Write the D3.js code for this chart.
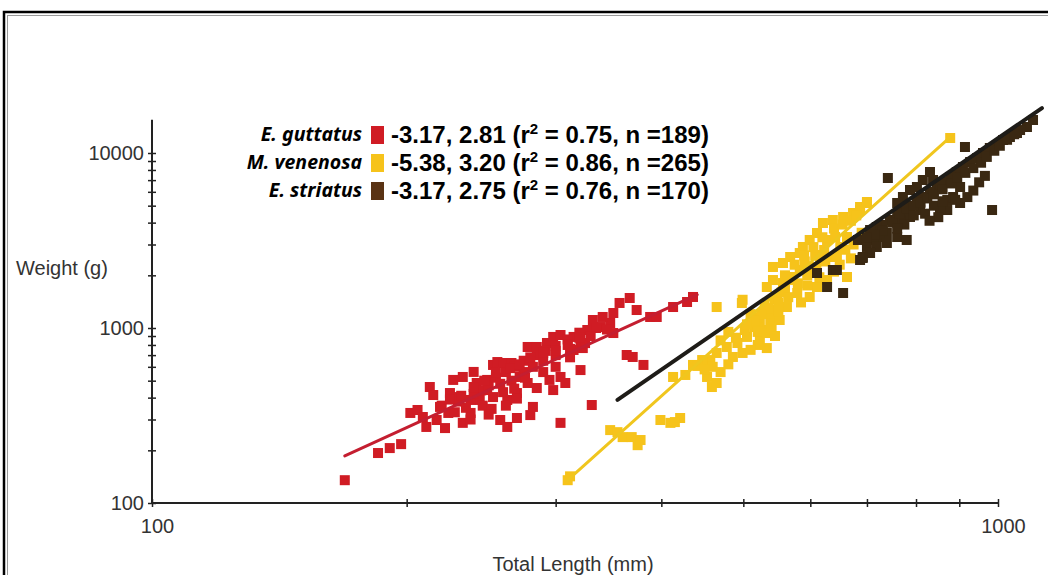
<!DOCTYPE html>
<html>
<head>
<meta charset="utf-8">
<script src="https://cdn.jsdelivr.net/npm/d3@7"></script>
<style>
  body { margin: 0; background: #fff; }
  svg { display: block; }
</style>
</head>
<body>
<div id="chart"></div>
<script>
// Length-weight scatter, log-log axes

// Total length (mm), weight (g)
const guttatus = [
  [169,135],[185,193],[191,206],[197,217],
  [202,327],[206,340],[209,310],[211,272],[213,460],[215,414],[217,298],[219,354],[222,268],[224,327],
  [225,425],[227,505],[229,403],[233,287],[233,525],[238,327],[240,561],[242,485],[249,505],[253,615],
  [256,639],[260,631],[266,631],[258,298],[263,272],[270,306],[280,318],[282,354],[263,388],[270,425],
  [278,485],[285,454],[295,505],[304,525],[308,485],[298,442],[321,575],[304,287],[331,363],[364,701],
  [370,683],[381,615],[351,936],[339,1013],[348,1068],[315,749],[323,768],[272,525],[253,403],[244,388],
  [238,388],[249,442],[278,779],[285,779],[293,821],[298,889],[304,912],[315,889],[321,854],[327,974],
  [332,1111],[341,1156],[351,1218],[357,1390],[367,1484],[374,1267],[388,1156],[395,1156],[413,1318],
  [436,1504],[429,1408],[245,440],[250,470],[255,520],[262,560],[268,600],[275,650],[285,700],[292,740],
  [300,790],[310,860],[320,940],[335,1000],[230,380],[240,420],[258,480],[266,500],[275,560],[282,600],
  [290,650],[300,700],[312,760],[325,820],[220,360],[235,350],[246,360],[252,345],[262,360],[270,395],
  [240,460],[247,500],[255,560],[265,590],[272,620],[280,680],[290,720],[300,740],[310,800],[320,880],
  [330,900],[345,980],[225,390],[232,410],[260,430],[268,450],[276,520],[290,560],[300,600],[312,680],
  [228,330],[238,300],[250,320]
];
const venenosa = [
  [310,135],[312,142],[348,261],[355,254],[360,238],[369,238],[378,229],[375,214],[410,287],[421,306],
  [415,290],[399,298],[413,525],[427,539],[436,615],[453,525],[459,460],[465,485],[457,656],[465,720],
  [478,779],[492,821],[499,720],[486,683],[505,889],[523,854],[533,768],[528,974],[538,1111],[542,1267],
  [465,1318],[498,1390],[447,656],[441,607],[542,2232],[557,2352],[568,2545],[583,2683],[588,2904],
  [599,3184],[611,3490],[621,3981],[638,4141],[656,4309],[674,4541],[687,4914],[700,5248],[542,1880],
  [557,1807],[572,1956],[599,2232],[616,2447],[633,2545],[651,2904],[663,3311],[628,3184],[533,1715],
  [548,1504],[563,1318],[538,1218],[599,1504],[579,1585],[611,1715],[628,1880],[663,1956],[499,1450],
  [523,1068],[533,936],[552,1111],[700,5180],[687,4723],[878,12180],[583,2145],[608,2613],[623,2791],
  [642,3311],[568,1880],[591,2400],[502,974],[515,1013],[520,1150],[510,1200],[530,1350],[545,1450],
  [555,1600],[520,800],[560,2000],[575,2300],[590,2600],[605,2900],[620,3300],[640,3700],[655,3900],
  [670,4100],[680,4400],[595,2000],[610,2200],[625,2400],[645,2600],[660,2800],[675,3000],[690,3500],
  [560,1650],[580,1800],[595,1750],[615,1950],[640,2100],[650,2300],[670,2500],[550,1400],[565,1500],
  [585,1400],[535,1300],[550,1250],[525,1200],[515,1100],[505,1050],[540,1000],[480,950],[490,880],
  [470,850],[520,950],[545,900],[510,750],[460,600],[470,560],[480,620],[450,580]
];
const striatus = [
  [1053,13008],[1033,12340],[1014,11866],[997,11110],[978,10682],[960,10000],[945,9363],[927,8884],
  [909,8318],[894,7788],[878,7294],[861,6829],[847,6393],[831,5986],[815,5604],[802,5387],[787,4914],
  [772,4601],[760,4423],[745,4141],[731,3878],[719,3777],[706,3631],[831,7788],[815,7010],[802,6393],
  [787,6145],[772,5604],[760,5180],[838,7010],[854,6564],[871,5387],[885,5604],[902,6393],[902,5180],
  [871,4723],[854,4723],[809,4723],[787,4309],[766,4141],[739,3490],[760,3311],[780,3184],[725,3311],
  [712,3184],[700,2904],[739,3060],[719,2904],[706,2683],[692,2545],[687,2447],[638,2145],[628,1715],
  [656,1585],[914,10822],[741,7197],[984,4723],[1082,14078],[1100,15440],[1062,13530],[645,2145],
  [611,2062],[683,3184],[692,2512],[750,4000],[765,4500],[780,4800],[795,5000],[810,5200],[825,5500],
  [840,5800],[860,6200],[880,6700],[895,7200],[915,7700],[935,8200],[955,8800],[970,9500],[990,10300],
  [1005,11000],[1025,11900],[1045,12800],[795,4400],[820,4500],[840,5000],[860,5300],[890,5400],
  [920,5600],[935,6100],[950,6800],[965,7400],[850,4300],[830,4100],[775,3900],[730,3600],[715,3400],
  [700,3300],[760,3700]
];

// fitted lines, end points
const fitGuttatus = [[169,186],[441,1550]];
const fitVenenosa = [[310,135],[878,12340]];
const fitStriatus = [[355,388],[1127,18070]];

// legend
const speciesNames = ["E. guttatus", "M. venenosa", "E. striatus"];
const intercepts = ["-3.17", "-5.38", "-3.17"];
const slopes = ["2.81", "3.20", "2.75"];
const rSquared = ["0.75", "0.86", "0.76"];
const sampleN = [189, 265, 170];

// ticks
const xMajor = [100, 1000];
const xMinor = [200, 300, 400, 500, 600, 700, 800, 900];
const yMajor = [100, 1000, 10000];
const yMinor = [200, 300, 400, 500, 600, 700, 800, 900, 2000, 3000, 4000, 5000, 6000, 7000, 8000, 9000];
const yAxisTop = 15500;

const colors = {
  guttatus: "#d01c24",
  venenosa: "#f6c31b",
  striatus: "#3a2812",
  guttatusLine: "#c41e30",
  venenosaLine: "#f0c61e",
  striatusLine: "#1e1c18",
  legendStriatus: "#5a3314"
};

function drawChart() {
  const W = 1048, H = 575;

  d3.select("#chart").html("");
  const svg = d3.select("#chart").append("svg")
      .attr("width", W)
      .attr("height", H);

  // frame
  svg.append("rect")
      .attr("x", 4).attr("y", 12)
      .attr("width", W + 20).attr("height", H + 20)
      .attr("fill", "none")
      .attr("stroke", "#000")
      .attr("stroke-width", 2.5);
  svg.append("rect")
      .attr("x", 7.5).attr("y", 15.5)
      .attr("width", W + 20).attr("height", H + 20)
      .attr("fill", "none")
      .attr("stroke", "#999")
      .attr("stroke-width", 1);

  const x = d3.scaleLog().domain([100, 1000]).range([152, 998]);
  const y = d3.scaleLog().domain([100, 10000]).range([503, 153]);

  const tickFont = "'Liberation Sans', Arial, sans-serif";

  // X axis
  const xAxis = svg.append("g")
      .attr("transform", "translate(0,503)")
      .call(d3.axisBottom(x)
        .tickValues(xMinor.concat(xMajor))
        .tickFormat(d => xMajor.includes(d) ? d : "")
        .tickSize(4)
        .tickPadding(12));
  xAxis.select(".domain").remove();
  xAxis.append("line")
      .attr("x1", x(100)).attr("x2", x(1000))
      .attr("stroke", "#222").attr("stroke-width", 2);
  xAxis.selectAll(".tick line").attr("y1", -4).attr("y2", 4).attr("stroke", "#222").attr("stroke-width", 1.5);
  xAxis.selectAll(".tick text")
      .style("font-family", tickFont)
      .style("font-size", "20px")
      .attr("fill", "#333")
      .attr("dx", 5);

  // Y axis
  const yAxis = svg.append("g")
      .attr("transform", "translate(152,0)")
      .call(d3.axisLeft(y)
        .tickValues(yMinor.concat(yMajor))
        .tickFormat(d => yMajor.includes(d) ? d : "")
        .tickSize(4)
        .tickPadding(4));
  yAxis.select(".domain").remove();
  yAxis.append("line")
      .attr("y1", y(100)).attr("y2", y(yAxisTop))
      .attr("stroke", "#222").attr("stroke-width", 2);
  yAxis.selectAll(".tick line").attr("x1", -4).attr("x2", 4).attr("stroke", "#222").attr("stroke-width", 1.5);
  yAxis.selectAll(".tick text")
      .style("font-family", tickFont)
      .style("font-size", "20px")
      .attr("fill", "#333");

  // axis titles
  svg.append("text")
      .attr("x", 16).attr("y", 275)
      .style("font-family", tickFont)
      .style("font-size", "20px")
      .attr("fill", "#333")
      .text("Weight (g)");
  svg.append("text")
      .attr("x", 573).attr("y", 571)
      .attr("text-anchor", "middle")
      .style("font-family", tickFont)
      .style("font-size", "20px")
      .attr("fill", "#333")
      .text("Total Length (mm)");

  // points
  const size = 10;
  function drawPoints(data, color) {
    svg.append("g").selectAll("rect")
        .data(data)
        .enter()
        .append("rect")
        .attr("x", d => x(d[0]) - size / 2)
        .attr("y", d => y(d[1]) - size / 2)
        .attr("width", size)
        .attr("height", size)
        .attr("fill", color);
  }
  drawPoints(guttatus, colors.guttatus);
  drawPoints(venenosa, colors.venenosa);
  drawPoints(striatus, colors.striatus);

  // fitted lines
  const line = d3.line().x(d => x(d[0])).y(d => y(d[1]));
  function drawFit(data, color, w) {
    svg.append("path")
        .attr("d", line(data))
        .attr("fill", "none")
        .attr("stroke", color)
        .attr("stroke-width", w)
        .attr("stroke-linecap", "round");
  }
  drawFit(fitGuttatus, colors.guttatusLine, 3);
  drawFit(fitVenenosa, colors.venenosaLine, 3);
  drawFit(fitStriatus, colors.striatusLine, 4);

  // legend
  const legendColors = [colors.guttatus, colors.venenosa, colors.legendStriatus];
  const legend = svg.append("g");
  speciesNames.forEach((name, i) => {
    const cy = 135 + i * 28;
    legend.append("text")
        .attr("x", 362).attr("y", cy + 6)
        .attr("text-anchor", "end")
        .style("font-family", "'Noto Sans', sans-serif")
        .style("font-size", "19.5px")
        .style("font-weight", "bold")
        .style("font-style", "italic")
        .text(name);
    legend.append("rect")
        .attr("x", 371).attr("y", cy - 9)
        .attr("width", 13).attr("height", 18)
        .attr("fill", legendColors[i]);
    const t = legend.append("text")
        .attr("x", 391).attr("y", cy + 8)
        .style("font-family", "'Liberation Sans', Arial, sans-serif")
        .style("font-size", "24px")
        .style("font-weight", "bold")
        .attr("fill", "#000");
    t.append("tspan").text(`${intercepts[i]}, ${slopes[i]} (r`);
    t.append("tspan").attr("dy", -9).style("font-size", "15px").text("2");
    t.append("tspan").attr("dy", 9).text(` = ${rSquared[i]}, n =${sampleN[i]})`);
  });
}

drawChart();
</script>
</body>
</html>
